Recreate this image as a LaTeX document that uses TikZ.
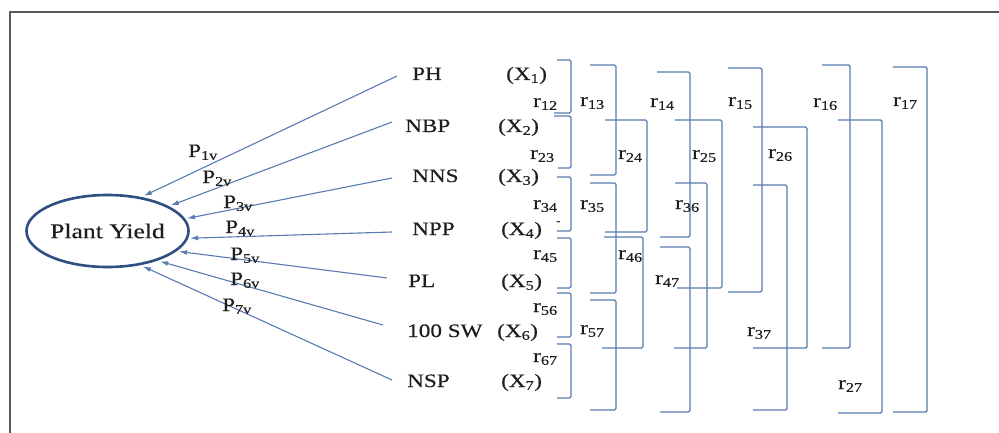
\documentclass[tikz,border=0pt]{standalone}
\usepackage{fontspec}
\setmainfont{Liberation Serif}[FakeStretch=1.22,FakeBold=0.35]
\usetikzlibrary{shapes.geometric,arrows.meta}
\definecolor{linkblue}{HTML}{5A7BB2}
\definecolor{rimblue}{HTML}{2F4E82}
\definecolor{framegray}{HTML}{5A5A5A}
\definecolor{ink}{HTML}{1E1E1E}
\begin{document}
\begin{tikzpicture}[x=1pt,y=-1pt,
  lbl/.style={inner sep=0pt, anchor=base west, text=ink, font=\fontsize{19}{22}\selectfont},
  link/.style={draw=linkblue, line width=1.1pt, -{Latex[length=8pt,width=5pt]}},
  brk/.style={draw=linkblue, line width=1.4pt, rounded corners=1.5pt}]
% canvas and frame
\useasboundingbox[fill=white] (0,0) rectangle (999,433);
\draw[framegray, line width=1.8pt] (10,433) -- (10,12) -- (999,12);

% dependent variable
\node[ellipse, draw=rimblue, line width=2.6pt, minimum width=148pt, minimum height=72pt,
      inner sep=0pt, outer sep=3pt, text=ink, font=\fontsize{21}{24}\selectfont]
      (py) at (107.5,231) {Plant Yield};

% independent variables
\node[lbl] (ph)  at (412,80)  {PH};
\node[lbl] (nbp) at (405,132) {NBP};
\node[lbl] (nns) at (412,182) {NNS};
\node[lbl] (npp) at (412,235) {NPP};
\node[lbl] (pl)  at (408,287) {PL};
\node[lbl] (sw)  at (407,337) {100 SW};
\node[lbl] (nsp) at (407,387) {NSP};

\node[lbl] (x1) at (506,80)  {(X\textsubscript{1})};
\node[lbl] (x2) at (498,132) {(X\textsubscript{2})};
\node[lbl] (x3) at (498,182) {(X\textsubscript{3})};
\node[lbl] (x4) at (501,235) {(X\textsubscript{4})};
\node[lbl, font=\fontsize{10}{12}\selectfont] (x4m) at (556,224) {-};
\node[lbl] (x5) at (501,287) {(X\textsubscript{5})};
\node[lbl] (x6) at (497,337) {(X\textsubscript{6})};
\node[lbl] (x7) at (501,387) {(X\textsubscript{7})};

% path arrows into the ellipse
\coordinate (s1) at (397,76);
\coordinate (s2) at (392,122);
\coordinate (s3) at (392,178);
\coordinate (s4) at (392,232);
\coordinate (s5) at (387,278);
\coordinate (s6) at (383,325);
\coordinate (s7) at (392,380);
\draw[link] (s1) -- (py.44);
\draw[link] (s2) -- (py.22);
\draw[link] (s3) -- (py.9);
\draw[link] (s4) -- (py.-5);
\draw[link] (s5) -- (py.-16);
\draw[link] (s6) -- (py.-30);
\draw[link] (s7) -- (py.-45);

% path coefficients
\node[lbl] (p1) at (188,157) {P\textsubscript{1v}};
\node[lbl] (p2) at (202,183) {P\textsubscript{2v}};
\node[lbl] (p3) at (223,208) {P\textsubscript{3v}};
\node[lbl] (p4) at (225,233) {P\textsubscript{4v}};
\node[lbl] (p5) at (230,260) {P\textsubscript{5v}};
\node[lbl] (p6) at (230,285) {P\textsubscript{6v}};
\node[lbl] (p7) at (222,311) {P\textsubscript{7v}};

% correlation brackets
\draw[brk] (557,60)  -| (571,113) -- (554,113);
\draw[brk] (554,116) -| (571,168) -- (558,168);
\draw[brk] (557,177) -| (571,231) -- (557,231);
\draw[brk] (557,238) -| (571,288) -- (557,288);
\draw[brk] (557,293) -| (571,337) -- (557,337);
\draw[brk] (557,344) -| (571,398) -- (557,398);

\draw[brk] (590,65)  -| (616,175) -- (590,175);
\draw[brk] (590,183) -| (616,293) -- (590,293);
\draw[brk] (590,300) -| (616,410) -- (590,410);

\draw[brk] (605,120) -| (647,232) -- (605,232);
\draw[brk] (604,237) -| (643,348) -- (602,348);

\draw[brk] (657,72)  -| (690,237) -- (660,237);
\draw[brk] (660,247) -| (690,412) -- (660,412);

\draw[brk] (675,120) -| (722,288) -- (677,288);
\draw[brk] (675,183) -| (707,348) -- (674,348);

\draw[brk] (728,68)  -| (762,292) -- (728,292);
\draw[brk] (753,127) -| (807,348) -- (753,348);
\draw[brk] (753,185) -| (787,410) -- (753,410);

\draw[brk] (822,65)  -| (850,348) -- (822,348);
\draw[brk] (838,120) -| (882,413) -- (838,413);
\draw[brk] (893,67)  -| (927,412) -- (893,412);

% correlation labels
\node[lbl] (r12) at (533,107) {r\textsubscript{12}};
\node[lbl] (r23) at (530,159) {r\textsubscript{23}};
\node[lbl] (r34) at (533,209) {r\textsubscript{34}};
\node[lbl] (r45) at (533,259) {r\textsubscript{45}};
\node[lbl] (r56) at (533,312) {r\textsubscript{56}};
\node[lbl] (r67) at (533,362) {r\textsubscript{67}};
\node[lbl] (r13) at (580,106) {r\textsubscript{13}};
\node[lbl] (r24) at (618,159) {r\textsubscript{24}};
\node[lbl] (r35) at (580,209) {r\textsubscript{35}};
\node[lbl] (r46) at (618,259) {r\textsubscript{46}};
\node[lbl] (r57) at (580,334) {r\textsubscript{57}};
\node[lbl] (r14) at (650,107) {r\textsubscript{14}};
\node[lbl] (r25) at (692,159) {r\textsubscript{25}};
\node[lbl] (r36) at (675,209) {r\textsubscript{36}};
\node[lbl] (r47) at (655,284) {r\textsubscript{47}};
\node[lbl] (r15) at (728,106) {r\textsubscript{15}};
\node[lbl] (r26) at (768,158) {r\textsubscript{26}};
\node[lbl] (r37) at (747,336) {r\textsubscript{37}};
\node[lbl] (r16) at (813,107) {r\textsubscript{16}};
\node[lbl] (r27) at (838,389) {r\textsubscript{27}};
\node[lbl] (r17) at (893,106) {r\textsubscript{17}};
\end{tikzpicture}
\end{document}
